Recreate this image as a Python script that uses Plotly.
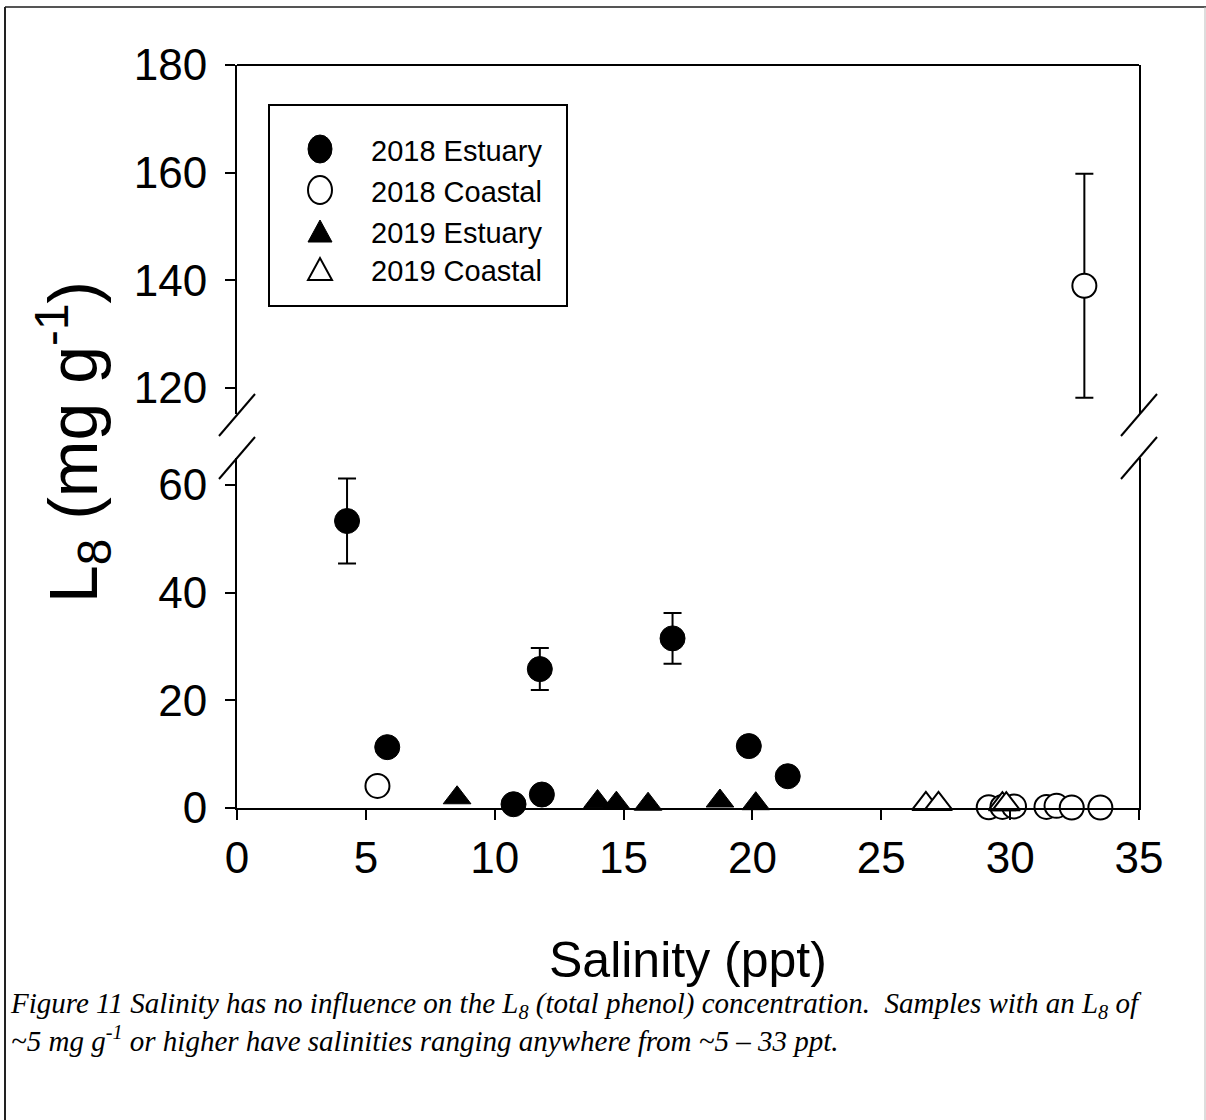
import plotly.graph_objects as go

# ---- data: salinity (ppt) vs L8 total phenol (mg g-1) ----
est18_x = [4.27, 5.83, 10.73, 11.83, 11.75, 16.90, 19.86, 21.37]
est18_y = [53.3, 11.3, 0.7, 2.5, 25.8, 31.5, 11.5, 5.9]
est18_err = [7.9, None, None, None, 3.9, 4.7, None, None]

coast18_x = [5.45, 29.17, 29.70, 30.15, 31.41, 31.80, 32.39, 33.50, 32.88]
coast18_y = [4.1, 0.15, 0.2, 0.3, 0.2, 0.4, 0.1, 0.1, 139.0]
coast18_err = [None, None, None, None, None, None, None, None, 20.8]

est19_x = [8.54, 13.99, 14.72, 15.95, 18.74, 20.13]
est19_y = [1.9, 1.2, 0.9, 0.7, 1.3, 0.8]

coast19_x = [26.73, 27.22, 29.70, 29.85]
coast19_y = [0.75, 0.75, 0.7, 0.7]

x_ticks = [0, 5, 10, 15, 20, 25, 30, 35]
y_low_ticks = [0, 20, 40, 60]
y_high_ticks = [120, 140, 160, 180]
BREAK_AT = 100  # values above this go on the upper (broken) segment

series_names = ["2018 Estuary", "2018 Coastal", "2019 Estuary", "2019 Coastal"]

# ---- layout geometry (pixels) ----
FW, FH = 1206, 1120
L, R, T, B = 237, 1139, 65, 808
W, H = R - L, B - T
LOW_TOP, HIGH_BOT = 458, 414
lo_dom = [0, (B - LOW_TOP) / H]
hi_dom = [(B - HIGH_BOT) / H, 1]
scale = (B - LOW_TOP) / 65.0
lo_range = [0, 65]
hi_range = [180 - (HIGH_BOT - T) / scale, 180]


def fx(px):
    return (px - L) / W


def fy(py):
    return (B - py) / H


SANS = "Liberation Sans, Arial, sans-serif"
SERIF = "Liberation Serif, Times New Roman, serif"

fig = go.Figure()
err_style = dict(type="data", color="black", thickness=2, width=9, visible=True)


def split(xs, ys, es):
    lo = [(x, y, e) for x, y, e in zip(xs, ys, es) if y < BREAK_AT]
    hi = [(x, y, e) for x, y, e in zip(xs, ys, es) if y >= BREAK_AT]
    return lo, hi


def add_series(xs, ys, es, marker, name):
    lo, hi = split(xs, ys, es)
    for part, yax in ((lo, "y"), (hi, "y2")):
        if not part:
            continue
        px_, py_, pe_ = zip(*part)
        tr = dict(x=list(px_), y=list(py_), mode="markers", marker=marker,
                  name=name, showlegend=False, yaxis=yax, cliponaxis=False)
        if any(e is not None for e in pe_):
            tr["error_y"] = dict(array=list(pe_), **err_style)
        fig.add_trace(go.Scatter(**tr))


filled_circle = dict(symbol="circle", size=25, color="black", line=dict(color="black", width=1))
open_circle = dict(symbol="circle", size=24, color="white", line=dict(color="black", width=2))
filled_tri = dict(symbol="triangle-up", size=24, color="black", line=dict(color="black", width=1))
open_tri = dict(symbol="triangle-up", size=24, color="white", line=dict(color="black", width=2))

add_series(est18_x, est18_y, est18_err, filled_circle, series_names[0])
add_series(coast18_x, coast18_y, coast18_err, open_circle, series_names[1])
add_series(est19_x, est19_y, [None] * len(est19_x), filled_tri, series_names[2])
add_series(coast19_x, coast19_y, [None] * len(coast19_x), open_tri, series_names[3])

axis_common = dict(showgrid=False, zeroline=False, showline=True, linecolor="black",
                   linewidth=2, ticks="outside", ticklen=10, tickwidth=2, tickcolor="black",
                   tickfont=dict(family=SANS, size=44, color="black"))

fig.update_layout(
    width=FW, height=FH,
    margin=dict(l=L, r=FW - R, t=T, b=FH - B),
    paper_bgcolor="white", plot_bgcolor="white",
    showlegend=False,
    xaxis=dict(range=[0, 35], tickvals=x_ticks, anchor="y", ticklabelstandoff=0, **axis_common),
    yaxis=dict(range=lo_range, domain=lo_dom, tickvals=y_low_ticks, mirror=True,
               ticklabelstandoff=9, **axis_common),
    yaxis2=dict(range=hi_range, domain=hi_dom, tickvals=y_high_ticks, mirror=True,
                anchor="x", ticklabelstandoff=9, **axis_common),
)

shapes = []
line_k = dict(color="black", width=2)
# top edge of the plot frame
shapes.append(dict(type="line", xref="paper", yref="paper", x0=0, x1=1, y0=1, y1=1, line=line_k))
# axis-break slashes on both sides
for ax_px in (L, R):
    for y_lo, y_hi in ((436, 394), (479, 437)):
        shapes.append(dict(type="line", xref="paper", yref="paper",
                           x0=fx(ax_px - 18), y0=fy(y_lo), x1=fx(ax_px + 18), y1=fy(y_hi),
                           line=line_k))
# legend frame
shapes.append(dict(type="rect", xref="paper", yref="paper", x0=fx(269), x1=fx(567),
                   y0=fy(306), y1=fy(105), line=line_k, fillcolor="rgba(0,0,0,0)"))
# outer page border
shapes.append(dict(type="line", xref="paper", yref="paper", x0=fx(5), x1=fx(FW), y0=fy(7), y1=fy(7),
                   line=dict(color="#555555", width=2)))
shapes.append(dict(type="line", xref="paper", yref="paper", x0=fx(5), x1=fx(5), y0=fy(7), y1=fy(FH),
                   line=dict(color="#222222", width=2)))
shapes.append(dict(type="line", xref="paper", yref="paper", x0=fx(1205), x1=fx(1205), y0=fy(7), y1=fy(FH),
                   line=dict(color="#bbbbbb", width=1)))

# legend key symbols and labels
key_rows = [149, 190, 231, 269]
key_kind = [("circle", "black"), ("circle", "white"), ("tri", "black"), ("tri", "white")]
annotations = []
for name, row, (kind, fill) in zip(series_names, key_rows, key_kind):
    base = dict(xref="paper", yref="paper", xsizemode="pixel", ysizemode="pixel",
                xanchor=fx(320), yanchor=fy(row), fillcolor=fill,
                line=dict(color="black", width=2 if fill == "white" else 1))
    if kind == "circle":
        shapes.append(dict(type="circle", x0=-12, x1=12, y0=-14, y1=14, **base))
    else:
        shapes.append(dict(type="path", path="M -12,-11 L 12,-11 L 0,11 Z", **base))
    annotations.append(dict(xref="paper", yref="paper", x=fx(369), y=fy(row + 2),
                            xanchor="left", yanchor="middle", showarrow=False, text=name,
                            font=dict(family=SANS, size=29, color="black")))

# axis titles
annotations.append(dict(xref="paper", yref="paper", x=fx(688), y=fy(960), xanchor="center",
                        yanchor="middle", showarrow=False, text="Salinity (ppt)",
                        font=dict(family=SANS, size=50, color="black")))
annotations.append(dict(xref="paper", yref="paper", x=fx(73), y=fy(442), xanchor="center",
                        yanchor="middle", showarrow=False, textangle=-90,
                        text="L<sub>8</sub> (mg g<sup>-1</sup>)",
                        font=dict(family=SANS, size=68, color="black")))

# figure caption
caption = ("<i>Figure 11 Salinity has no influence on the L<sub>8</sub> (total phenol) concentration."
           "\u00a0 Samples with an L<sub>8</sub> of<br>~5 mg g<sup>-1</sup> or higher have salinities "
           "ranging anywhere from ~5 \u2013 33 ppt.</i>")
annotations.append(dict(xref="paper", yref="paper", x=fx(8), y=fy(985), xanchor="left",
                        yanchor="top", align="left", showarrow=False, text=caption,
                        font=dict(family=SERIF, size=29, color="black")))

fig.update_layout(shapes=shapes, annotations=annotations)
fig.write_html("out.html")
